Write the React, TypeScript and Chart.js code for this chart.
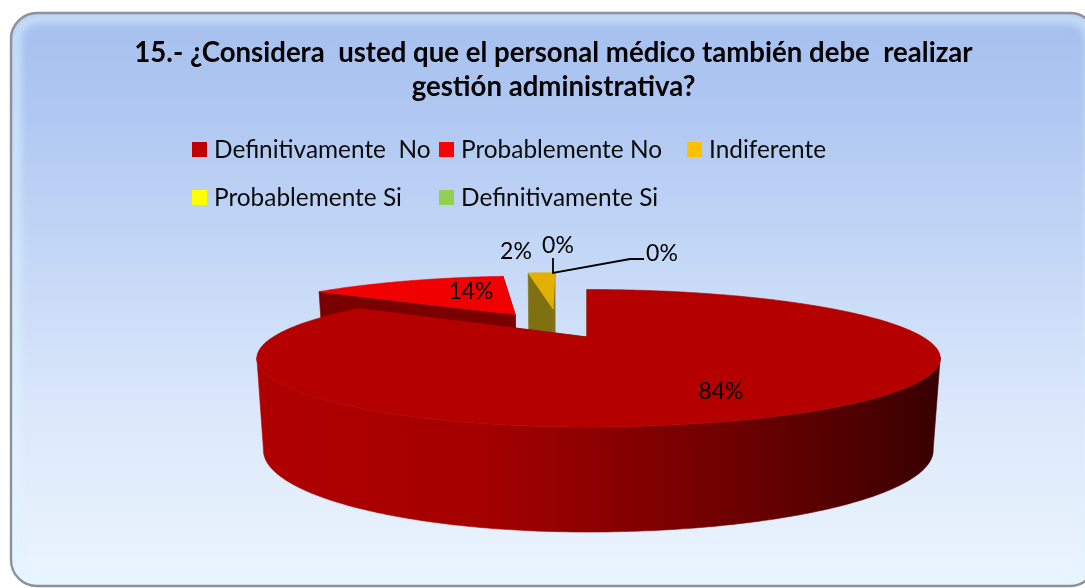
import React, { useEffect, useRef } from "react";
import { Chart, registerables } from "chart.js";

Chart.register(...registerables);

const titleLines = [
  "15.- ¿Considera  usted que el personal médico también debe  realizar",
  "gestión administrativa?",
];
const categories = ["Definitivamente  No", "Probablemente No", "Indiferente", "Probablemente Si", "Definitivamente Si"];
const values = [84, 14, 2, 0, 0];
const legendColors = ["#c00000", "#ff0000", "#ffc000", "#ffff00", "#92d050"];
const topColors = ["#b50000", "#f00000", "#e4b000", "#ffff00", "#92d050"];
const wallColors = ["#7c0000", "#7a0000", "#7f7012", "#888800", "#4d7a20"];
const explode = [0, 0.48, 0.52, 0, 0];
const nudge = [0, 0, -25, 0, 0];

const FONT = "Lato";
const legendCols = [192, 439, 687];
const legendRows = [150.5, 198.5];
const labelSpots = [
  [721, 392],
  [471, 292],
  [516, 252],
  [558, 246],
  [662, 254],
];

const AX = 587, AY = 337, RL = 314, RR = 336, RY = 62.2, K = -0.309;

function project(u: number, v: number, z: number, n: number) {
  const w = 1 + K * v;
  let x = (u / w) * (u > 0 ? RR : RL);
  let y = (RY * v) / w;
  y += z * (88 + (y * 17) / 90);
  x *= 1 - 0.02 * z;
  return [AX + x + n, AY + y];
}

function poly(ctx: CanvasRenderingContext2D, pts: number[][], fill: any) {
  ctx.beginPath();
  pts.forEach((p, i) => (i ? ctx.lineTo(p[0], p[1]) : ctx.moveTo(p[0], p[1])));
  ctx.closePath();
  ctx.fillStyle = fill;
  ctx.strokeStyle = fill;
  ctx.lineWidth = 0.6;
  ctx.fill();
  ctx.stroke();
}

function roundPath(ctx: CanvasRenderingContext2D, x: number, y: number, w: number, h: number, r: number) {
  ctx.beginPath();
  ctx.roundRect(x, y, w, h, r);
}

const backgroundPlugin = {
  id: "panel",
  beforeDraw(chart: any) {
    const ctx: CanvasRenderingContext2D = chart.ctx;
    const x = 11, y = 13, w = 1085, h = 573, r = 26;
    ctx.save();
    ctx.fillStyle = "#ffffff";
    ctx.fillRect(0, 0, chart.width, chart.height);
    roundPath(ctx, x, y, w, h, r);
    const g = ctx.createLinearGradient(0, y, 0, y + h);
    g.addColorStop(0, "#a5bfee");
    g.addColorStop(0.18, "#b0c8f1");
    g.addColorStop(0.4, "#c2d6f6");
    g.addColorStop(0.7, "#dce8fb");
    g.addColorStop(1, "#ecf5fe");
    ctx.fillStyle = g;
    ctx.fill();
    ctx.save();
    roundPath(ctx, x, y, w, h, r);
    ctx.clip();
    ctx.filter = "blur(4px)";
    ctx.strokeStyle = "rgba(222,246,255,0.75)";
    ctx.lineWidth = 8;
    roundPath(ctx, x + 5, y + 5, w - 10, h - 10, r - 4);
    ctx.stroke();
    ctx.restore();
    roundPath(ctx, x, y, w, h, r);
    ctx.strokeStyle = "#8c919b";
    ctx.lineWidth = 2.4;
    ctx.stroke();
    ctx.restore();
  },
};

const pie3dPlugin = {
  id: "pie3d",
  beforeDatasetsDraw(chart: any) {
    const ctx: CanvasRenderingContext2D = chart.ctx;
    const arcs: any[] = chart.getDatasetMeta(0).data;
    const order = arcs
      .map((a, i) => ({ i, a0: a.startAngle, a1: a.endAngle }))
      .filter((s) => s.a1 - s.a0 > 1e-4)
      .sort((p, q) => Math.sin((p.a0 + p.a1) / 2) - Math.sin((q.a0 + q.a1) / 2));
    ctx.save();
    for (const s of order) {
      const mid = (s.a0 + s.a1) / 2;
      const e = explode[s.i];
      const u0 = e * Math.cos(mid), v0 = e * Math.sin(mid), n = nudge[s.i];
      const steps = Math.max(4, Math.ceil((s.a1 - s.a0) / 0.01));
      const top: number[][] = [];
      const frontTop: number[][] = [], frontBot: number[][] = [];
      let first: number[] = [], last: number[] = [];
      for (let j = 0; j <= steps; j++) {
        const a = s.a0 + ((s.a1 - s.a0) * j) / steps;
        const u = u0 + Math.cos(a), v = v0 + Math.sin(a);
        const pt = project(u, v, 0, n);
        const pb = project(u, v, 1, n);
        top.push(pt);
        if (j === 0) first = pb;
        if (j === steps) last = pb;
        if (Math.sin(a) > 0.29) {
          frontTop.push(pt);
          frontBot.push(pb);
        }
      }
      const apexT = project(u0, v0, 0, n), apexB = project(u0, v0, 1, n);
      poly(ctx, [apexT, top[0], first, apexB], wallColors[s.i]);
      poly(ctx, [apexT, top[steps], last, apexB], wallColors[s.i]);
      if (frontTop.length > 1) {
        let wall: any = wallColors[s.i];
        if (s.i === 0) {
          wall = ctx.createLinearGradient(257, 0, 940, 0);
          wall.addColorStop(0, "#b00000");
          wall.addColorStop(0.33, "#a40000");
          wall.addColorStop(0.5, "#8c0000");
          wall.addColorStop(0.68, "#700000");
          wall.addColorStop(0.85, "#540000");
          wall.addColorStop(1, "#380000");
        }
        poly(ctx, [...frontTop, ...frontBot.reverse()], wall);
      }
      poly(ctx, [apexT, ...top], topColors[s.i]);
    }
    ctx.restore();
    return false;
  },
};

const overlayPlugin = {
  id: "overlay",
  afterDraw(chart: any) {
    const ctx: CanvasRenderingContext2D = chart.ctx;
    ctx.save();
    ctx.strokeStyle = "#000000";
    ctx.lineWidth = 1.8;
    ctx.beginPath();
    ctx.moveTo(553, 258);
    ctx.lineTo(553, 273);
    ctx.lineTo(630, 259);
    ctx.lineTo(644, 259);
    ctx.stroke();

    ctx.textBaseline = "middle";
    ctx.textAlign = "center";
    ctx.fillStyle = "#000000";
    ctx.font = `23px ${FONT}`;
    values.forEach((val, i) => {
      ctx.fillText(`${val}%`, labelSpots[i][0], labelSpots[i][1]);
    });

    ctx.textAlign = "left";
    ctx.font = `24.4px ${FONT}`;
    categories.forEach((c, i) => {
      const col = i < 3 ? i : i - 3;
      const row = i < 3 ? 0 : 1;
      const bx = legendCols[col];
      const cy = legendRows[row];
      ctx.fillStyle = legendColors[i];
      ctx.fillRect(bx, cy - 8.5, 15, 15);
      ctx.fillStyle = "#0a0a0a";
      ctx.fillText(c, bx + 22, cy);
    });
    ctx.restore();
  },
};

export default function App() {
  const ref = useRef<HTMLCanvasElement>(null);
  useEffect(() => {
    document.body.style.margin = "0";
    document.body.style.background = "#ffffff";
    const chart = new Chart(ref.current!, {
      type: "pie",
      data: {
        labels: categories,
        datasets: [{ data: values, backgroundColor: legendColors, borderWidth: 0 }],
      },
      options: {
        responsive: false,
        animation: false,
        layout: { padding: { left: 22, top: 36, right: 0, bottom: 0 } },
        plugins: {
          legend: { display: false },
          tooltip: { enabled: false },
          title: {
            display: true,
            text: titleLines,
            color: "#000000",
            font: { family: FONT, size: 27.6, weight: "bold", lineHeight: 1.235 },
            padding: { top: 0, bottom: 120 },
          },
        },
      },
      plugins: [backgroundPlugin, pie3dPlugin, overlayPlugin],
    } as any);
    return () => chart.destroy();
  }, []);
  return <canvas ref={ref} width={1085} height={588} style={{ display: "block" }} />;
}
